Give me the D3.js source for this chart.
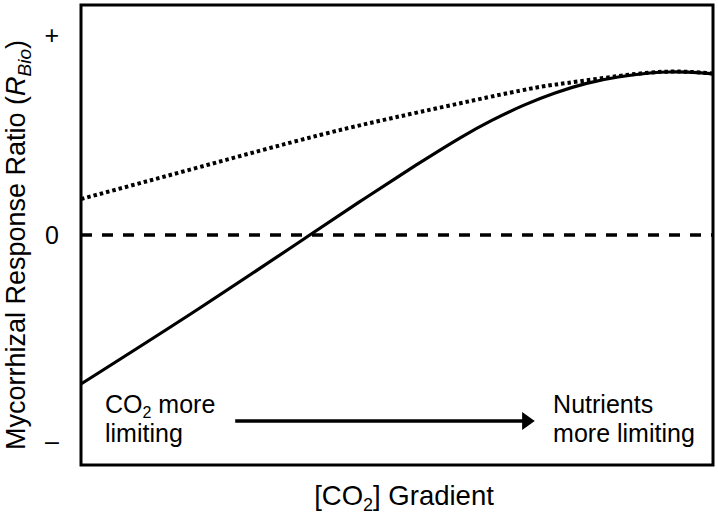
<!DOCTYPE html>
<html><head><meta charset="utf-8">
<script src="https://cdn.jsdelivr.net/npm/d3@7"></script>
<style>body{margin:0;background:#fff;} text{font-family:Arial,"Liberation Sans",sans-serif;fill:#000;}</style>
</head><body><svg id="c" width="718" height="516"></svg>
<script>
// ---- data ----
const solidX = [0, 0.188, 0.362, 0.45, 0.53, 0.6, 0.65, 0.7, 0.75, 0.8, 0.85, 0.9, 0.93, 0.96, 1.0];
const solidResponse = [-0.745, -0.365, 0, 0.185, 0.349, 0.486, 0.573, 0.648, 0.71, 0.758, 0.79, 0.81, 0.815, 0.814, 0.806];
const dottedX = [0, 0.188, 0.378, 0.536, 0.695, 0.769, 0.848, 0.9, 0.93, 0.96, 1.0];
const dottedResponse = [0.18, 0.34, 0.5, 0.615, 0.722, 0.76, 0.794, 0.812, 0.817, 0.816, 0.808];
const zeroX = [0, 1];
const zeroResponse = [0, 0];
const yTickValues = [1, 0, -1.03];
const yTickLabels = ["+", "0", "–"];

// ---- layout ----
const W = 718, H = 516;
const margin = {left: 81, right: 5, top: 5, bottom: 51};
const svg = d3.select("#c");
const x = d3.scaleLinear().domain([0, 1]).range([margin.left, W - margin.right]);
const y = d3.scaleLinear().domain([-1.15, 1.15]).range([H - margin.bottom, margin.top]);

const line = d3.line().x(d => x(d[0])).y(d => y(d[1]));

// zero dashed line
svg.append("path")
  .datum(d3.zip(zeroX, zeroResponse))
  .attr("d", line)
  .attr("fill", "none").attr("stroke", "#000")
  .attr("stroke-width", 3.5).attr("stroke-dasharray", "11,10");

// dotted line
svg.append("path")
  .datum(d3.zip(dottedX, dottedResponse))
  .attr("d", line.curve(d3.curveNatural))
  .attr("fill", "none").attr("stroke", "#000")
  .attr("stroke-width", 4).attr("stroke-dasharray", "3.5,3");

// solid line
svg.append("path")
  .datum(d3.zip(solidX, solidResponse))
  .attr("d", line.curve(d3.curveNatural))
  .attr("fill", "none").attr("stroke", "#000")
  .attr("stroke-width", 3.2);

// frame
svg.append("rect")
  .attr("x", x(0)).attr("y", y(1.15))
  .attr("width", x(1) - x(0)).attr("height", y(-1.15) - y(1.15))
  .attr("fill", "none").attr("stroke", "#000").attr("stroke-width", 3);

// y axis ticks (labels only)
const yAxis = d3.axisLeft(y).tickValues(yTickValues)
  .tickFormat((d, i) => yTickLabels[i]).tickSize(0).tickPadding(22);
const gy = svg.append("g").attr("transform", `translate(${x(0)},0)`).call(yAxis);
gy.select(".domain").remove();
gy.selectAll("text").style("font-size", "25px").attr("font-family", "Arial, 'Liberation Sans', sans-serif");

// y label
const yl = svg.append("text")
  .attr("transform", `translate(25,245) rotate(-90)`)
  .attr("text-anchor", "middle").style("font-size", "27px");
yl.append("tspan").text("Mycorrhizal Response Ratio (");
yl.append("tspan").attr("font-style", "italic").text("R");
yl.append("tspan").attr("font-style", "italic").style("font-size", "19px").attr("dy", 6).text("Bio");
yl.append("tspan").attr("dy", -6).text(")");

// x label
const xl = svg.append("text")
  .attr("x", 404).attr("y", 505)
  .attr("text-anchor", "middle").style("font-size", "27.5px");
xl.append("tspan").text("[CO");
xl.append("tspan").style("font-size", "18px").attr("dy", 6).text("2");
xl.append("tspan").attr("dy", -6).text("] Gradient");

// annotations
const t1 = svg.append("text").attr("x", x(0.038)).attr("y", y(-0.89)).style("font-size", "25px");
t1.append("tspan").text("CO");
t1.append("tspan").style("font-size", "16px").attr("dy", 5).text("2");
t1.append("tspan").attr("dy", -5).text(" more");
svg.append("text").attr("x", x(0.038)).attr("y", y(-1.035)).style("font-size", "25px").text("limiting");

svg.append("text").attr("x", x(0.747)).attr("y", y(-0.89)).style("font-size", "25px").text("Nutrients");
svg.append("text").attr("x", x(0.747)).attr("y", y(-1.035)).style("font-size", "25px").text("more limiting");

// arrow
const ay = y(-0.93);
svg.append("line").attr("x1", x(0.244)).attr("x2", x(0.70)).attr("y1", ay).attr("y2", ay)
  .attr("stroke", "#000").attr("stroke-width", 3.3);
svg.append("path")
  .attr("d", `M${x(0.698)},${ay - 9} L${x(0.718)},${ay} L${x(0.698)},${ay + 9} Z`)
  .attr("fill", "#000");
</script></body></html>
